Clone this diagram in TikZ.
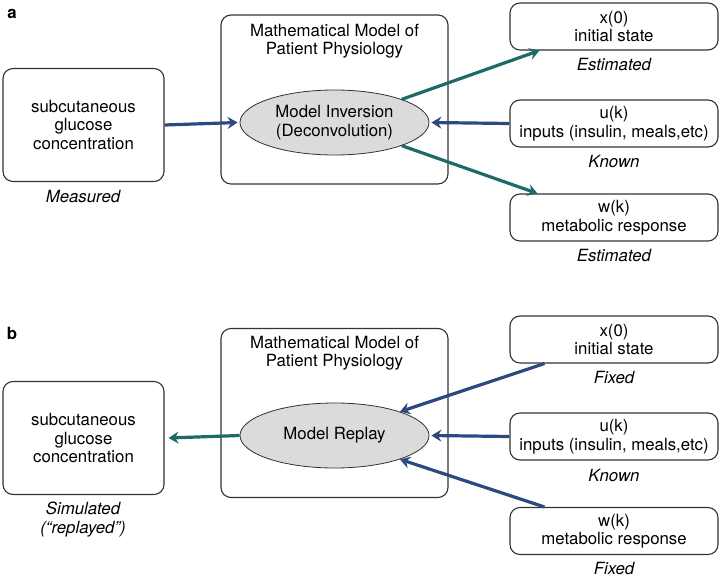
\documentclass[tikz,border=0pt]{standalone}
\usepackage{fontspec}
\setmainfont{TeX Gyre Heros}
\usetikzlibrary{shapes.geometric, arrows.meta}
\definecolor{navy}{HTML}{2C4A80}
\definecolor{teal}{HTML}{1C6B68}
\begin{document}
\begin{tikzpicture}[x=1pt, y=-1pt, font=\fontsize{16.8}{18.5}\selectfont,
    box/.style={draw=black!80, rectangle, rounded corners=10, line width=1.1pt, align=center, inner sep=0pt},
    side/.style={box, minimum width=161pt, minimum height=113pt},
    var/.style={box, minimum width=208pt, minimum height=47pt},
    model/.style={box, minimum width=227pt, minimum height=169pt},
    inv/.style={draw=black!80, ellipse, fill=black!14, line width=0.8pt, minimum width=189pt, minimum height=65pt, inner sep=0pt, align=center},
    tag/.style={font=\fontsize{16.8}{18.5}\selectfont\itshape, align=center},
    n/.style={-{Stealth[length=10pt, width=12pt, inset=3.5pt]}, line width=3.2pt, navy},
    t/.style={-{Stealth[length=10pt, width=12pt, inset=3.5pt]}, line width=3.2pt, teal}]
    \useasboundingbox (0,0) rectangle (721,578);
    % nodes (a)
    \node[font=\fontsize{16.8}{18.5}\selectfont\bfseries] (a) at (12,14) {a};
    \node[side] (ameas) at (83.5,125) {subcutaneous\\glucose\\concentration};
    \node[tag] (ameastag) at (83,197) {Measured};
    \node[model] (amodel) at (334.5,99.5) {};
    \node[align=center] (atitle) at (334.5,41) {Mathematical Model of\\Patient Physiology};
    \node[inv] (ainv) at (334.5,122.5) {Model Inversion\\(Deconvolution)};
    \node[var] (ax) at (614,26.5) {x(0)\\initial state};
    \node[tag] (axtag) at (614,65) {Estimated};
    \node[var] (au) at (614,123.5) {u(k)\\inputs (insulin, meals,etc)};
    \node[tag] (autag) at (614,162) {Known};
    \node[var] (aw) at (614,217.5) {w(k)\\metabolic response};
    \node[tag] (awtag) at (614,256) {Estimated};
    % nodes (b)
    \node[font=\fontsize{16.8}{18.5}\selectfont\bfseries] (b) at (12,333) {b};
    \node[side] (bsim) at (83.5,438) {subcutaneous\\glucose\\concentration};
    \node[tag] (bsimtag) at (83,519.5) {Simulated\\(“replayed”)};
    \node[model] (bmodel) at (334.5,413) {};
    \node[align=center] (btitle) at (334.5,353) {Mathematical Model of\\Patient Physiology};
    \node[inv] (breplay) at (334.5,435.5) {Model Replay};
    \node[var] (bx) at (614,339.5) {x(0)\\initial state};
    \node[tag] (bxtag) at (614,378) {Fixed};
    \node[var] (bu) at (614,436.5) {u(k)\\inputs (insulin, meals,etc)};
    \node[tag] (butag) at (614,475) {Known};
    \node[var] (bw) at (614,531) {w(k)\\metabolic response};
    \node[tag] (bwtag) at (614,568) {Fixed};
    % edges (a)
    \draw [n] (ameas.east) -- ([xshift=-2pt]ainv.west);
    \draw [t] (ainv.19) -- ([xshift=30pt]ax.south west);
    \draw [n] (au.west) -- ([xshift=2pt]ainv.east);
    \draw [t] (ainv.-19) -- ([xshift=28pt]aw.north west);
    % edges (b)
    \draw [t] (breplay.west) -- ([xshift=4pt]bsim.east);
    \draw [n] ([xshift=35pt]bx.south west) -- (breplay.20);
    \draw [n] (bu.west) -- ([xshift=2pt]breplay.east);
    \draw [n] ([xshift=35pt]bw.north west) -- (breplay.-20);
\end{tikzpicture}
\end{document}
